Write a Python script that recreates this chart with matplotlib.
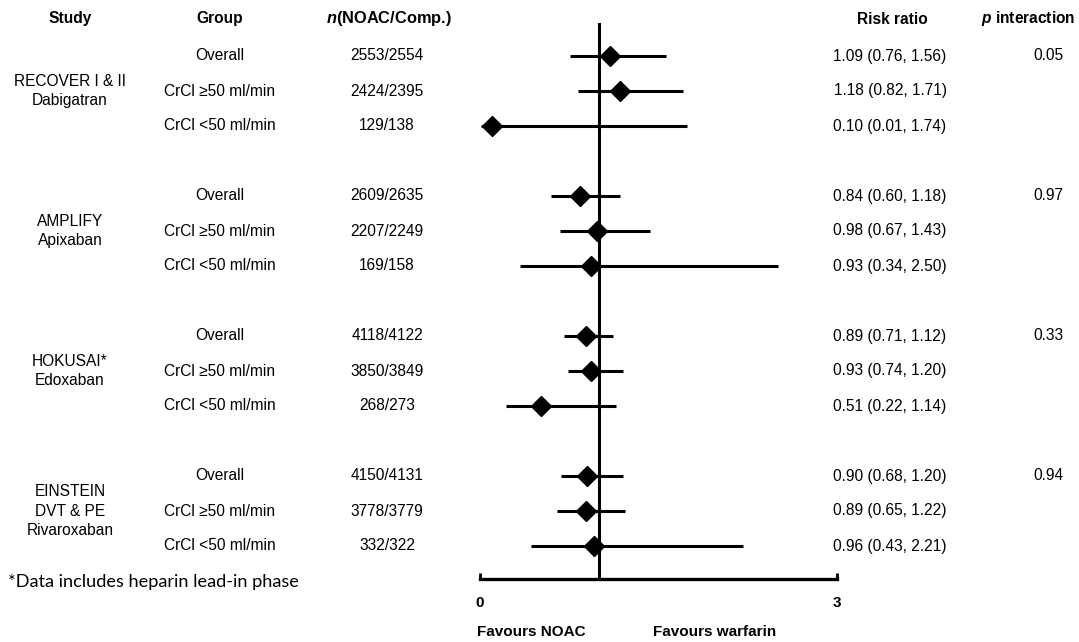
import matplotlib
matplotlib.use("Agg")
import matplotlib.pyplot as plt
from matplotlib.transforms import blended_transform_factory

plt.rcParams['font.family'] = ['Liberation Sans', 'DejaVu Sans']
plt.rcParams['mathtext.fontset'] = 'custom'
plt.rcParams['mathtext.bfit'] = 'Liberation Sans:italic:bold'
plt.rcParams['mathtext.it'] = 'Liberation Sans:italic'
plt.rcParams['mathtext.rm'] = 'Liberation Sans'
plt.rcParams['mathtext.bf'] = 'Liberation Sans:bold'

studies = ["RECOVER I & II\nDabigatran", "AMPLIFY\nApixaban",
           "HOKUSAI*\nEdoxaban", "EINSTEIN\nDVT & PE\nRivaroxaban"]
groups = ["Overall", "CrCl \u226550 ml/min", "CrCl <50 ml/min"]
n_labels = [
    ["2553/2554", "2424/2395", "129/138"],
    ["2609/2635", "2207/2249", "169/158"],
    ["4118/4122", "3850/3849", "268/273"],
    ["4150/4131", "3778/3779", "332/322"],
]
rr = [[1.09, 1.18, 0.10], [0.84, 0.98, 0.93], [0.89, 0.93, 0.51], [0.90, 0.89, 0.96]]
lo = [[0.76, 0.82, 0.01], [0.60, 0.67, 0.34], [0.71, 0.74, 0.22], [0.68, 0.65, 0.43]]
hi = [[1.56, 1.71, 1.74], [1.18, 1.43, 2.50], [1.12, 1.20, 1.14], [1.20, 1.22, 2.21]]
p_int = ["0.05", "0.97", "0.33", "0.94"]
x_ticks = [0, 3]

W, H = 1079, 642
fig = plt.figure(figsize=(W / 100, H / 100), dpi=100)

# forest axes: x 0..3 spans px 480..837, y spans px 23..579
ax = fig.add_axes([480 / W, 1 - 579 / H, 357 / W, (579 - 23) / H])
row_px = 35.0
row0 = 56
y_top = (23 - row0) / row_px
y_bot = (579 - row0) / row_px
ax.set_xlim(0, 3)
ax.set_ylim(y_bot, y_top)
for s in ['top', 'right', 'left']:
    ax.spines[s].set_visible(False)
ax.spines['bottom'].set_linewidth(2.4)
ax.set_yticks([])
ax.set_xticks(x_ticks)
ax.tick_params(axis='x', direction='in', length=4, width=2, pad=12)
narrow = ['Liberation Sans Narrow', 'Liberation Sans', 'DejaVu Sans']
for lab in ax.get_xticklabels():
    lab.set_fontfamily(narrow)
    lab.set_fontweight('bold')
    lab.set_fontsize(11)
ax.axvline(1, color='black', lw=2.2, zorder=1)
ax.patch.set_alpha(0)

fs = 11.2
tr = blended_transform_factory(fig.transFigure, ax.transData)

def fx(px):
    return px / W

# headers
hy = (19 - row0) / row_px
ax.text(fx(70), hy, "Study", transform=tr, ha='center', va='center', fontsize=fs, fontweight='bold')
ax.text(fx(220), hy, "Group", transform=tr, ha='center', va='center', fontsize=fs, fontweight='bold')
ax.text(fx(389), hy, r"$\bfit{n}$(NOAC/Comp.)", transform=tr, ha='center', va='center',
        fontsize=fs + 0.6, fontweight='bold')
ax.text(fx(892), hy, "Risk ratio", transform=tr, ha='center', va='center', fontsize=fs, fontweight='bold')
ax.text(fx(1028), hy, r"$\bfit{p}$ interaction", transform=tr, ha='center', va='center',
        fontsize=fs, fontweight='bold')

for g in range(len(studies)):
    base = g * 4
    ax.text(fx(70), base + 1, studies[g], transform=tr, ha='center', va='center',
            fontsize=fs, linespacing=1.4)
    ax.text(fx(1048), base, p_int[g], transform=tr, ha='center', va='center', fontsize=fs)
    for r in range(3):
        y = base + r
        ax.text(fx(220), y, groups[r], transform=tr, ha='center', va='center', fontsize=fs)
        ax.text(fx(387), y, n_labels[g][r], transform=tr, ha='center', va='center', fontsize=fs)
        ax.text(fx(890), y, f"{rr[g][r]:.2f} ({lo[g][r]:.2f}, {hi[g][r]:.2f})", transform=tr,
                ha='center', va='center', fontsize=fs)
        ax.plot([lo[g][r], hi[g][r]], [y, y], color='black', lw=2.2, zorder=2,
                solid_capstyle='butt', clip_on=False)
        ax.plot([rr[g][r]], [y], marker='D', color='black', markersize=10, zorder=3, clip_on=False)

fig.text(8 / W, 1 - 582 / H, "*Data includes heparin lead-in phase", ha='left', va='center',
         fontsize=13.1, family=['Lato', 'DejaVu Sans'])
fig.text(531 / W, 1 - 632 / H, "Favours NOAC", ha='center', va='center', fontsize=11,
         fontweight='bold', family=narrow)
fig.text(715 / W, 1 - 632 / H, "Favours warfarin", ha='center', va='center', fontsize=11,
         fontweight='bold', family=narrow)

fig.savefig("out.png", dpi=100, facecolor='white')
